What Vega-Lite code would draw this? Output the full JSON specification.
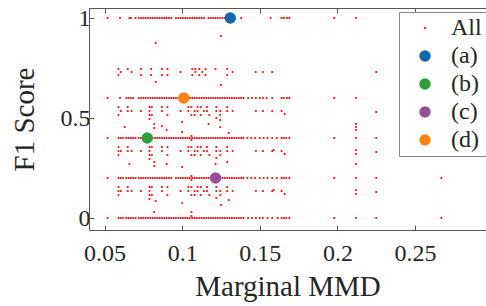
{
  "$schema": "https://vega.github.io/schema/vega-lite/v6.json",
  "width": 397,
  "height": 222,
  "autosize": {"type": "none"},
  "padding": {"left": 89, "top": 8, "right": 0, "bottom": 76},
  "background": "white",
  "config": {
    "font": "Liberation Serif",
    "view": {"stroke": null},
    "axis": {"domainColor": "#555555", "tickColor": "#555555", "labelFont": "Liberation Serif", "labelFontSize": 24, "labelColor": "#262626", "titleFont": "Liberation Serif", "titleFontSize": 29, "titleFontWeight": "normal", "titleColor": "#262626", "grid": false, "tickSize": -5},
    "legend": {"labelFont": "Liberation Serif", "labelFontSize": 24, "labelColor": "#262626", "title": null, "orient": "none", "legendX": 310, "legendY": 4, "padding": 4, "rowPadding": 4, "symbolOffset": 10, "labelOffset": 14, "strokeColor": "#888888", "fillColor": "white", "symbolStrokeWidth": 0, "symbolSize": 130}
  },
  "datasets": {
    "all": [
      {"x":0.052,"y":1,"s":"All"},{"x":0.060,"y":1,"s":"All"},{"x":0.066,"y":1,"s":"All"},{"x":0.067,"y":1,"s":"All"},{"x":0.070,"y":1,"s":"All"},{"x":0.072,"y":1,"s":"All"},{"x":0.0735,"y":1,"s":"All"},{"x":0.075,"y":1,"s":"All"},{"x":0.0765,"y":1,"s":"All"},{"x":0.078,"y":1,"s":"All"},{"x":0.0795,"y":1,"s":"All"},{"x":0.081,"y":1,"s":"All"},{"x":0.0825,"y":1,"s":"All"},{"x":0.084,"y":1,"s":"All"},{"x":0.0855,"y":1,"s":"All"},{"x":0.087,"y":1,"s":"All"},{"x":0.0885,"y":1,"s":"All"},{"x":0.090,"y":1,"s":"All"},{"x":0.0915,"y":1,"s":"All"},{"x":0.093,"y":1,"s":"All"},{"x":0.096,"y":1,"s":"All"},{"x":0.0975,"y":1,"s":"All"},{"x":0.099,"y":1,"s":"All"},{"x":0.1005,"y":1,"s":"All"},{"x":0.102,"y":1,"s":"All"},{"x":0.1035,"y":1,"s":"All"},{"x":0.105,"y":1,"s":"All"},{"x":0.1065,"y":1,"s":"All"},{"x":0.108,"y":1,"s":"All"},{"x":0.1095,"y":1,"s":"All"},{"x":0.111,"y":1,"s":"All"},{"x":0.1125,"y":1,"s":"All"},{"x":0.114,"y":1,"s":"All"},{"x":0.117,"y":1,"s":"All"},{"x":0.1185,"y":1,"s":"All"},{"x":0.120,"y":1,"s":"All"},{"x":0.1215,"y":1,"s":"All"},{"x":0.123,"y":1,"s":"All"},{"x":0.1245,"y":1,"s":"All"},{"x":0.126,"y":1,"s":"All"},{"x":0.1275,"y":1,"s":"All"},{"x":0.129,"y":1,"s":"All"},{"x":0.138,"y":1,"s":"All"},{"x":0.157,"y":1,"s":"All"},{"x":0.164,"y":1,"s":"All"},{"x":0.1655,"y":1,"s":"All"},{"x":0.1675,"y":1,"s":"All"},{"x":0.169,"y":1,"s":"All"},{"x":0.198,"y":1,"s":"All"},{"x":0.212,"y":1,"s":"All"},
      {"x":0.052,"y":0.6,"s":"All"},{"x":0.060,"y":0.6,"s":"All"},{"x":0.064,"y":0.6,"s":"All"},{"x":0.0655,"y":0.6,"s":"All"},{"x":0.067,"y":0.6,"s":"All"},{"x":0.0685,"y":0.6,"s":"All"},{"x":0.072,"y":0.6,"s":"All"},{"x":0.0735,"y":0.6,"s":"All"},{"x":0.075,"y":0.6,"s":"All"},{"x":0.0765,"y":0.6,"s":"All"},{"x":0.078,"y":0.6,"s":"All"},{"x":0.0795,"y":0.6,"s":"All"},{"x":0.081,"y":0.6,"s":"All"},{"x":0.0825,"y":0.6,"s":"All"},{"x":0.084,"y":0.6,"s":"All"},{"x":0.0855,"y":0.6,"s":"All"},{"x":0.087,"y":0.6,"s":"All"},{"x":0.0885,"y":0.6,"s":"All"},{"x":0.090,"y":0.6,"s":"All"},{"x":0.0915,"y":0.6,"s":"All"},{"x":0.093,"y":0.6,"s":"All"},{"x":0.0945,"y":0.6,"s":"All"},{"x":0.096,"y":0.6,"s":"All"},{"x":0.0975,"y":0.6,"s":"All"},{"x":0.099,"y":0.6,"s":"All"},{"x":0.102,"y":0.6,"s":"All"},{"x":0.1035,"y":0.6,"s":"All"},{"x":0.105,"y":0.6,"s":"All"},{"x":0.1065,"y":0.6,"s":"All"},{"x":0.108,"y":0.6,"s":"All"},{"x":0.1095,"y":0.6,"s":"All"},{"x":0.111,"y":0.6,"s":"All"},{"x":0.1125,"y":0.6,"s":"All"},{"x":0.114,"y":0.6,"s":"All"},{"x":0.1155,"y":0.6,"s":"All"},{"x":0.117,"y":0.6,"s":"All"},{"x":0.1185,"y":0.6,"s":"All"},{"x":0.120,"y":0.6,"s":"All"},{"x":0.1215,"y":0.6,"s":"All"},{"x":0.123,"y":0.6,"s":"All"},{"x":0.1245,"y":0.6,"s":"All"},{"x":0.126,"y":0.6,"s":"All"},{"x":0.1275,"y":0.6,"s":"All"},{"x":0.129,"y":0.6,"s":"All"},{"x":0.1305,"y":0.6,"s":"All"},{"x":0.132,"y":0.6,"s":"All"},{"x":0.1335,"y":0.6,"s":"All"},{"x":0.135,"y":0.6,"s":"All"},{"x":0.1365,"y":0.6,"s":"All"},{"x":0.138,"y":0.6,"s":"All"},{"x":0.1395,"y":0.6,"s":"All"},{"x":0.1425,"y":0.6,"s":"All"},{"x":0.145,"y":0.6,"s":"All"},{"x":0.1475,"y":0.6,"s":"All"},{"x":0.150,"y":0.6,"s":"All"},{"x":0.152,"y":0.6,"s":"All"},{"x":0.1545,"y":0.6,"s":"All"},{"x":0.158,"y":0.6,"s":"All"},{"x":0.164,"y":0.6,"s":"All"},{"x":0.1655,"y":0.6,"s":"All"},{"x":0.1675,"y":0.6,"s":"All"},{"x":0.169,"y":0.6,"s":"All"},{"x":0.198,"y":0.6,"s":"All"},{"x":0.212,"y":0.6,"s":"All"},
      {"x":0.052,"y":0.4,"s":"All"},{"x":0.059,"y":0.4,"s":"All"},{"x":0.0605,"y":0.4,"s":"All"},{"x":0.062,"y":0.4,"s":"All"},{"x":0.064,"y":0.4,"s":"All"},{"x":0.0655,"y":0.4,"s":"All"},{"x":0.067,"y":0.4,"s":"All"},{"x":0.0685,"y":0.4,"s":"All"},{"x":0.070,"y":0.4,"s":"All"},{"x":0.072,"y":0.4,"s":"All"},{"x":0.0735,"y":0.4,"s":"All"},{"x":0.081,"y":0.4,"s":"All"},{"x":0.0825,"y":0.4,"s":"All"},{"x":0.084,"y":0.4,"s":"All"},{"x":0.0855,"y":0.4,"s":"All"},{"x":0.087,"y":0.4,"s":"All"},{"x":0.0885,"y":0.4,"s":"All"},{"x":0.090,"y":0.4,"s":"All"},{"x":0.0915,"y":0.4,"s":"All"},{"x":0.093,"y":0.4,"s":"All"},{"x":0.0945,"y":0.4,"s":"All"},{"x":0.096,"y":0.4,"s":"All"},{"x":0.0975,"y":0.4,"s":"All"},{"x":0.099,"y":0.4,"s":"All"},{"x":0.1005,"y":0.4,"s":"All"},{"x":0.102,"y":0.4,"s":"All"},{"x":0.1035,"y":0.4,"s":"All"},{"x":0.105,"y":0.4,"s":"All"},{"x":0.106,"y":0.41,"s":"All"},{"x":0.106,"y":0.39,"s":"All"},{"x":0.1065,"y":0.4,"s":"All"},{"x":0.108,"y":0.4,"s":"All"},{"x":0.1095,"y":0.4,"s":"All"},{"x":0.111,"y":0.4,"s":"All"},{"x":0.1125,"y":0.4,"s":"All"},{"x":0.114,"y":0.4,"s":"All"},{"x":0.1155,"y":0.4,"s":"All"},{"x":0.117,"y":0.4,"s":"All"},{"x":0.1185,"y":0.4,"s":"All"},{"x":0.120,"y":0.4,"s":"All"},{"x":0.1215,"y":0.4,"s":"All"},{"x":0.123,"y":0.4,"s":"All"},{"x":0.1245,"y":0.4,"s":"All"},{"x":0.126,"y":0.4,"s":"All"},{"x":0.1275,"y":0.4,"s":"All"},{"x":0.129,"y":0.4,"s":"All"},{"x":0.1305,"y":0.4,"s":"All"},{"x":0.132,"y":0.4,"s":"All"},{"x":0.1335,"y":0.4,"s":"All"},{"x":0.135,"y":0.4,"s":"All"},{"x":0.1365,"y":0.4,"s":"All"},{"x":0.138,"y":0.4,"s":"All"},{"x":0.1395,"y":0.4,"s":"All"},{"x":0.142,"y":0.4,"s":"All"},{"x":0.1445,"y":0.4,"s":"All"},{"x":0.147,"y":0.4,"s":"All"},{"x":0.150,"y":0.4,"s":"All"},{"x":0.1525,"y":0.4,"s":"All"},{"x":0.155,"y":0.4,"s":"All"},{"x":0.158,"y":0.4,"s":"All"},{"x":0.161,"y":0.4,"s":"All"},{"x":0.164,"y":0.4,"s":"All"},{"x":0.1655,"y":0.4,"s":"All"},{"x":0.167,"y":0.4,"s":"All"},{"x":0.169,"y":0.4,"s":"All"},{"x":0.198,"y":0.4,"s":"All"},{"x":0.212,"y":0.4,"s":"All"},{"x":0.225,"y":0.4,"s":"All"},
      {"x":0.052,"y":0.2,"s":"All"},{"x":0.059,"y":0.2,"s":"All"},{"x":0.0605,"y":0.2,"s":"All"},{"x":0.062,"y":0.2,"s":"All"},{"x":0.064,"y":0.2,"s":"All"},{"x":0.0655,"y":0.2,"s":"All"},{"x":0.067,"y":0.2,"s":"All"},{"x":0.0685,"y":0.2,"s":"All"},{"x":0.070,"y":0.2,"s":"All"},{"x":0.072,"y":0.2,"s":"All"},{"x":0.0735,"y":0.2,"s":"All"},{"x":0.075,"y":0.2,"s":"All"},{"x":0.0765,"y":0.2,"s":"All"},{"x":0.078,"y":0.2,"s":"All"},{"x":0.0795,"y":0.2,"s":"All"},{"x":0.081,"y":0.2,"s":"All"},{"x":0.0825,"y":0.2,"s":"All"},{"x":0.084,"y":0.2,"s":"All"},{"x":0.0855,"y":0.2,"s":"All"},{"x":0.087,"y":0.2,"s":"All"},{"x":0.0885,"y":0.2,"s":"All"},{"x":0.090,"y":0.2,"s":"All"},{"x":0.0915,"y":0.2,"s":"All"},{"x":0.093,"y":0.2,"s":"All"},{"x":0.096,"y":0.2,"s":"All"},{"x":0.0975,"y":0.2,"s":"All"},{"x":0.099,"y":0.2,"s":"All"},{"x":0.1005,"y":0.2,"s":"All"},{"x":0.102,"y":0.2,"s":"All"},{"x":0.1035,"y":0.2,"s":"All"},{"x":0.105,"y":0.2,"s":"All"},{"x":0.106,"y":0.21,"s":"All"},{"x":0.106,"y":0.19,"s":"All"},{"x":0.1065,"y":0.2,"s":"All"},{"x":0.108,"y":0.2,"s":"All"},{"x":0.1095,"y":0.2,"s":"All"},{"x":0.111,"y":0.2,"s":"All"},{"x":0.1125,"y":0.2,"s":"All"},{"x":0.114,"y":0.2,"s":"All"},{"x":0.1155,"y":0.2,"s":"All"},{"x":0.117,"y":0.2,"s":"All"},{"x":0.1185,"y":0.2,"s":"All"},{"x":0.1245,"y":0.2,"s":"All"},{"x":0.126,"y":0.2,"s":"All"},{"x":0.1275,"y":0.2,"s":"All"},{"x":0.129,"y":0.2,"s":"All"},{"x":0.1305,"y":0.2,"s":"All"},{"x":0.132,"y":0.2,"s":"All"},{"x":0.1335,"y":0.2,"s":"All"},{"x":0.135,"y":0.2,"s":"All"},{"x":0.1365,"y":0.2,"s":"All"},{"x":0.138,"y":0.2,"s":"All"},{"x":0.1395,"y":0.2,"s":"All"},{"x":0.142,"y":0.2,"s":"All"},{"x":0.1445,"y":0.2,"s":"All"},{"x":0.147,"y":0.2,"s":"All"},{"x":0.150,"y":0.2,"s":"All"},{"x":0.1525,"y":0.2,"s":"All"},{"x":0.155,"y":0.2,"s":"All"},{"x":0.158,"y":0.2,"s":"All"},{"x":0.161,"y":0.2,"s":"All"},{"x":0.164,"y":0.2,"s":"All"},{"x":0.1655,"y":0.2,"s":"All"},{"x":0.167,"y":0.2,"s":"All"},{"x":0.169,"y":0.2,"s":"All"},{"x":0.198,"y":0.2,"s":"All"},{"x":0.212,"y":0.2,"s":"All"},{"x":0.225,"y":0.2,"s":"All"},{"x":0.267,"y":0.2,"s":"All"},
      {"x":0.052,"y":0,"s":"All"},{"x":0.059,"y":0,"s":"All"},{"x":0.0605,"y":0,"s":"All"},{"x":0.062,"y":0,"s":"All"},{"x":0.064,"y":0,"s":"All"},{"x":0.0655,"y":0,"s":"All"},{"x":0.067,"y":0,"s":"All"},{"x":0.0685,"y":0,"s":"All"},{"x":0.070,"y":0,"s":"All"},{"x":0.072,"y":0,"s":"All"},{"x":0.0735,"y":0,"s":"All"},{"x":0.075,"y":0,"s":"All"},{"x":0.0765,"y":0,"s":"All"},{"x":0.078,"y":0,"s":"All"},{"x":0.0795,"y":0,"s":"All"},{"x":0.081,"y":0,"s":"All"},{"x":0.0825,"y":0,"s":"All"},{"x":0.084,"y":0,"s":"All"},{"x":0.0855,"y":0,"s":"All"},{"x":0.087,"y":0,"s":"All"},{"x":0.0885,"y":0,"s":"All"},{"x":0.090,"y":0,"s":"All"},{"x":0.0915,"y":0,"s":"All"},{"x":0.093,"y":0,"s":"All"},{"x":0.0945,"y":0,"s":"All"},{"x":0.096,"y":0,"s":"All"},{"x":0.0975,"y":0,"s":"All"},{"x":0.099,"y":0,"s":"All"},{"x":0.1005,"y":0,"s":"All"},{"x":0.102,"y":0,"s":"All"},{"x":0.1035,"y":0,"s":"All"},{"x":0.105,"y":0,"s":"All"},{"x":0.106,"y":0.01,"s":"All"},{"x":0.1065,"y":0,"s":"All"},{"x":0.108,"y":0,"s":"All"},{"x":0.1095,"y":0,"s":"All"},{"x":0.111,"y":0,"s":"All"},{"x":0.1125,"y":0,"s":"All"},{"x":0.114,"y":0,"s":"All"},{"x":0.1155,"y":0,"s":"All"},{"x":0.117,"y":0,"s":"All"},{"x":0.1185,"y":0,"s":"All"},{"x":0.120,"y":0,"s":"All"},{"x":0.1215,"y":0,"s":"All"},{"x":0.123,"y":0,"s":"All"},{"x":0.1245,"y":0,"s":"All"},{"x":0.126,"y":0,"s":"All"},{"x":0.1275,"y":0,"s":"All"},{"x":0.129,"y":0,"s":"All"},{"x":0.1305,"y":0,"s":"All"},{"x":0.132,"y":0,"s":"All"},{"x":0.1335,"y":0,"s":"All"},{"x":0.135,"y":0,"s":"All"},{"x":0.1365,"y":0,"s":"All"},{"x":0.138,"y":0,"s":"All"},{"x":0.1395,"y":0,"s":"All"},{"x":0.1425,"y":0,"s":"All"},{"x":0.145,"y":0,"s":"All"},{"x":0.1475,"y":0,"s":"All"},{"x":0.150,"y":0,"s":"All"},{"x":0.152,"y":0,"s":"All"},{"x":0.155,"y":0,"s":"All"},{"x":0.158,"y":0,"s":"All"},{"x":0.1615,"y":0,"s":"All"},{"x":0.164,"y":0,"s":"All"},{"x":0.1655,"y":0,"s":"All"},{"x":0.167,"y":0,"s":"All"},{"x":0.169,"y":0,"s":"All"},{"x":0.198,"y":0,"s":"All"},{"x":0.212,"y":0,"s":"All"},{"x":0.225,"y":0,"s":"All"},{"x":0.267,"y":0,"s":"All"},
      {"x":0.059,"y":0.745,"s":"All"},{"x":0.059,"y":0.715,"s":"All"},{"x":0.0605,"y":0.73,"s":"All"},{"x":0.065,"y":0.745,"s":"All"},{"x":0.0675,"y":0.73,"s":"All"},{"x":0.0735,"y":0.745,"s":"All"},{"x":0.0735,"y":0.715,"s":"All"},{"x":0.080,"y":0.745,"s":"All"},{"x":0.080,"y":0.715,"s":"All"},{"x":0.087,"y":0.745,"s":"All"},{"x":0.087,"y":0.715,"s":"All"},{"x":0.0905,"y":0.745,"s":"All"},{"x":0.0905,"y":0.715,"s":"All"},{"x":0.099,"y":0.73,"s":"All"},{"x":0.1065,"y":0.745,"s":"All"},{"x":0.1065,"y":0.715,"s":"All"},{"x":0.1085,"y":0.745,"s":"All"},{"x":0.1085,"y":0.73,"s":"All"},{"x":0.111,"y":0.745,"s":"All"},{"x":0.111,"y":0.715,"s":"All"},{"x":0.113,"y":0.73,"s":"All"},{"x":0.115,"y":0.745,"s":"All"},{"x":0.115,"y":0.715,"s":"All"},{"x":0.1215,"y":0.745,"s":"All"},{"x":0.129,"y":0.745,"s":"All"},{"x":0.129,"y":0.715,"s":"All"},{"x":0.1325,"y":0.73,"s":"All"},{"x":0.1474,"y":0.73,"s":"All"},{"x":0.152,"y":0.73,"s":"All"},{"x":0.158,"y":0.73,"s":"All"},{"x":0.225,"y":0.73,"s":"All"},
      {"x":0.059,"y":0.555,"s":"All"},{"x":0.059,"y":0.515,"s":"All"},{"x":0.0605,"y":0.535,"s":"All"},{"x":0.065,"y":0.555,"s":"All"},{"x":0.065,"y":0.535,"s":"All"},{"x":0.0675,"y":0.535,"s":"All"},{"x":0.0735,"y":0.535,"s":"All"},{"x":0.079,"y":0.555,"s":"All"},{"x":0.079,"y":0.535,"s":"All"},{"x":0.079,"y":0.515,"s":"All"},{"x":0.079,"y":0.495,"s":"All"},{"x":0.0805,"y":0.555,"s":"All"},{"x":0.0805,"y":0.515,"s":"All"},{"x":0.087,"y":0.555,"s":"All"},{"x":0.087,"y":0.535,"s":"All"},{"x":0.0905,"y":0.555,"s":"All"},{"x":0.0905,"y":0.515,"s":"All"},{"x":0.099,"y":0.535,"s":"All"},{"x":0.104,"y":0.555,"s":"All"},{"x":0.104,"y":0.535,"s":"All"},{"x":0.106,"y":0.555,"s":"All"},{"x":0.106,"y":0.515,"s":"All"},{"x":0.108,"y":0.535,"s":"All"},{"x":0.108,"y":0.515,"s":"All"},{"x":0.110,"y":0.555,"s":"All"},{"x":0.110,"y":0.535,"s":"All"},{"x":0.112,"y":0.555,"s":"All"},{"x":0.112,"y":0.515,"s":"All"},{"x":0.114,"y":0.535,"s":"All"},{"x":0.116,"y":0.555,"s":"All"},{"x":0.116,"y":0.535,"s":"All"},{"x":0.1175,"y":0.515,"s":"All"},{"x":0.122,"y":0.555,"s":"All"},{"x":0.122,"y":0.535,"s":"All"},{"x":0.122,"y":0.5,"s":"All"},{"x":0.1245,"y":0.535,"s":"All"},{"x":0.1245,"y":0.515,"s":"All"},{"x":0.129,"y":0.555,"s":"All"},{"x":0.129,"y":0.535,"s":"All"},{"x":0.1325,"y":0.535,"s":"All"},{"x":0.1475,"y":0.535,"s":"All"},{"x":0.152,"y":0.535,"s":"All"},{"x":0.158,"y":0.535,"s":"All"},{"x":0.164,"y":0.535,"s":"All"},{"x":0.166,"y":0.52,"s":"All"},{"x":0.225,"y":0.53,"s":"All"},
      {"x":0.059,"y":0.355,"s":"All"},{"x":0.059,"y":0.335,"s":"All"},{"x":0.059,"y":0.315,"s":"All"},{"x":0.0605,"y":0.335,"s":"All"},{"x":0.065,"y":0.355,"s":"All"},{"x":0.065,"y":0.335,"s":"All"},{"x":0.0675,"y":0.335,"s":"All"},{"x":0.0735,"y":0.335,"s":"All"},{"x":0.079,"y":0.355,"s":"All"},{"x":0.079,"y":0.335,"s":"All"},{"x":0.079,"y":0.315,"s":"All"},{"x":0.079,"y":0.295,"s":"All"},{"x":0.0805,"y":0.355,"s":"All"},{"x":0.0805,"y":0.315,"s":"All"},{"x":0.087,"y":0.355,"s":"All"},{"x":0.087,"y":0.335,"s":"All"},{"x":0.0905,"y":0.355,"s":"All"},{"x":0.0905,"y":0.315,"s":"All"},{"x":0.099,"y":0.335,"s":"All"},{"x":0.104,"y":0.355,"s":"All"},{"x":0.104,"y":0.335,"s":"All"},{"x":0.106,"y":0.355,"s":"All"},{"x":0.106,"y":0.315,"s":"All"},{"x":0.108,"y":0.335,"s":"All"},{"x":0.108,"y":0.315,"s":"All"},{"x":0.110,"y":0.355,"s":"All"},{"x":0.110,"y":0.335,"s":"All"},{"x":0.112,"y":0.355,"s":"All"},{"x":0.112,"y":0.315,"s":"All"},{"x":0.114,"y":0.335,"s":"All"},{"x":0.116,"y":0.355,"s":"All"},{"x":0.116,"y":0.335,"s":"All"},{"x":0.1175,"y":0.315,"s":"All"},{"x":0.122,"y":0.355,"s":"All"},{"x":0.122,"y":0.335,"s":"All"},{"x":0.122,"y":0.3,"s":"All"},{"x":0.1245,"y":0.335,"s":"All"},{"x":0.1245,"y":0.315,"s":"All"},{"x":0.129,"y":0.355,"s":"All"},{"x":0.129,"y":0.335,"s":"All"},{"x":0.1325,"y":0.335,"s":"All"},{"x":0.1475,"y":0.335,"s":"All"},{"x":0.152,"y":0.335,"s":"All"},{"x":0.158,"y":0.335,"s":"All"},{"x":0.164,"y":0.335,"s":"All"},{"x":0.166,"y":0.32,"s":"All"},{"x":0.212,"y":0.34,"s":"All"},{"x":0.212,"y":0.32,"s":"All"},{"x":0.225,"y":0.33,"s":"All"},
      {"x":0.059,"y":0.155,"s":"All"},{"x":0.059,"y":0.135,"s":"All"},{"x":0.059,"y":0.115,"s":"All"},{"x":0.0605,"y":0.135,"s":"All"},{"x":0.065,"y":0.155,"s":"All"},{"x":0.065,"y":0.135,"s":"All"},{"x":0.0675,"y":0.135,"s":"All"},{"x":0.0735,"y":0.135,"s":"All"},{"x":0.079,"y":0.155,"s":"All"},{"x":0.079,"y":0.135,"s":"All"},{"x":0.079,"y":0.115,"s":"All"},{"x":0.079,"y":0.095,"s":"All"},{"x":0.0805,"y":0.155,"s":"All"},{"x":0.0805,"y":0.115,"s":"All"},{"x":0.087,"y":0.155,"s":"All"},{"x":0.087,"y":0.135,"s":"All"},{"x":0.0905,"y":0.155,"s":"All"},{"x":0.0905,"y":0.115,"s":"All"},{"x":0.099,"y":0.135,"s":"All"},{"x":0.104,"y":0.155,"s":"All"},{"x":0.104,"y":0.135,"s":"All"},{"x":0.106,"y":0.155,"s":"All"},{"x":0.106,"y":0.115,"s":"All"},{"x":0.108,"y":0.135,"s":"All"},{"x":0.108,"y":0.115,"s":"All"},{"x":0.110,"y":0.155,"s":"All"},{"x":0.110,"y":0.135,"s":"All"},{"x":0.112,"y":0.155,"s":"All"},{"x":0.112,"y":0.115,"s":"All"},{"x":0.114,"y":0.135,"s":"All"},{"x":0.116,"y":0.155,"s":"All"},{"x":0.116,"y":0.135,"s":"All"},{"x":0.1175,"y":0.115,"s":"All"},{"x":0.122,"y":0.155,"s":"All"},{"x":0.122,"y":0.135,"s":"All"},{"x":0.122,"y":0.1,"s":"All"},{"x":0.1245,"y":0.135,"s":"All"},{"x":0.1245,"y":0.115,"s":"All"},{"x":0.129,"y":0.155,"s":"All"},{"x":0.129,"y":0.135,"s":"All"},{"x":0.1325,"y":0.135,"s":"All"},{"x":0.1475,"y":0.135,"s":"All"},{"x":0.152,"y":0.135,"s":"All"},{"x":0.158,"y":0.135,"s":"All"},{"x":0.164,"y":0.135,"s":"All"},{"x":0.166,"y":0.12,"s":"All"},{"x":0.212,"y":0.14,"s":"All"},{"x":0.212,"y":0.12,"s":"All"},{"x":0.225,"y":0.13,"s":"All"},
      {"x":0.083,"y":0.875,"s":"All"},{"x":0.125,"y":0.91,"s":"All"},{"x":0.083,"y":0.68,"s":"All"},{"x":0.125,"y":0.665,"s":"All"},{"x":0.063,"y":0.455,"s":"All"},{"x":0.082,"y":0.47,"s":"All"},{"x":0.082,"y":0.45,"s":"All"},{"x":0.087,"y":0.46,"s":"All"},{"x":0.09,"y":0.44,"s":"All"},{"x":0.1,"y":0.48,"s":"All"},{"x":0.1,"y":0.43,"s":"All"},{"x":0.117,"y":0.47,"s":"All"},{"x":0.1245,"y":0.49,"s":"All"},{"x":0.1245,"y":0.455,"s":"All"},{"x":0.13,"y":0.425,"s":"All"},{"x":0.066,"y":0.27,"s":"All"},{"x":0.082,"y":0.28,"s":"All"},{"x":0.082,"y":0.26,"s":"All"},{"x":0.09,"y":0.27,"s":"All"},{"x":0.1,"y":0.255,"s":"All"},{"x":0.1215,"y":0.27,"s":"All"},{"x":0.129,"y":0.28,"s":"All"},{"x":0.083,"y":0.085,"s":"All"},{"x":0.1,"y":0.075,"s":"All"},{"x":0.106,"y":0.03,"s":"All"},{"x":0.125,"y":0.065,"s":"All"},{"x":0.082,"y":0.03,"s":"All"},{"x":0.13,"y":0.09,"s":"All"},{"x":0.212,"y":0.47,"s":"All"},{"x":0.212,"y":0.455,"s":"All"},{"x":0.212,"y":0.44,"s":"All"},{"x":0.212,"y":0.27,"s":"All"},{"x":0.159,"y":0.34,"s":"All"},{"x":0.159,"y":0.14,"s":"All"}
    ],
    "highlight": [
      {"x":0.131,"y":1,"s":"(a)"},
      {"x":0.0775,"y":0.4,"s":"(b)"},
      {"x":0.1215,"y":0.2,"s":"(c)"},
      {"x":0.101,"y":0.6,"s":"(d)"}
    ]
  },
  "resolve": {"axis": {"x": "independent"}},
  "layer": [
    {
      "data": {"name": "all"},
      "mark": {"type": "point", "filled": true, "opacity": 1, "strokeWidth": 0, "size": 121},
      "encoding": {
        "x": {"field": "x", "type": "quantitative", "scale": {"domain": [0.04, 0.2957], "nice": false, "zero": false},
              "axis": {"values": [0.05, 0.1, 0.15, 0.2, 0.25], "format": "~g", "title": "Marginal MMD", "labelPadding": 16, "titlePadding": 7, "labelFont": "Liberation Serif", "titleFont": "Liberation Serif", "labelFontSize": 24, "titleFontSize": 29}},
        "y": {"field": "y", "type": "quantitative", "scale": {"domain": [-0.06, 1.05], "nice": false, "zero": false},
              "axis": {"values": [0, 0.5, 1], "format": "~g", "title": "F1 Score", "labelPadding": 4, "titlePadding": 21, "labelFont": "Liberation Serif", "titleFont": "Liberation Serif", "labelFontSize": 24, "titleFontSize": 29}},
        "color": {"field": "s", "type": "nominal",
                  "scale": {"domain": ["All", "(a)", "(b)", "(c)", "(d)"], "range": ["#ff0000", "#1068b3", "#2ca03a", "#9a4c9c", "#ff8210"]},
                  "legend": {"title": null}},
        "shape": {"field": "s", "type": "nominal",
                  "scale": {"domain": ["All", "(a)", "(b)", "(c)", "(d)"], "range": ["M-0.2,0L-0.14,-0.14L0,-0.2L0.14,-0.14L0.2,0L0.14,0.14L0,0.2L-0.14,0.14Z", "circle", "circle", "circle", "circle"]},
                  "legend": {"title": null}}
      }
    },
    {
      "data": {"name": "highlight"},
      "mark": {"type": "point", "filled": true, "opacity": 1, "strokeWidth": 0, "size": 130},
      "encoding": {
        "x": {"field": "x", "type": "quantitative", "axis": {"orient": "top", "values": [0.05, 0.1, 0.15, 0.2, 0.25], "labels": false, "title": null}},
        "y": {"field": "y", "type": "quantitative"},
        "color": {"field": "s", "type": "nominal", "legend": {"title": null}},
        "shape": {"field": "s", "type": "nominal", "legend": {"title": null}}
      }
    }
  ]
}
